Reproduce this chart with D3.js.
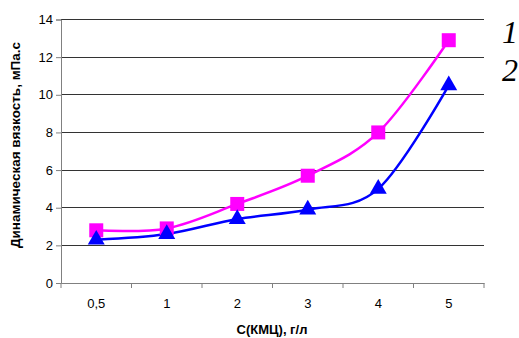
<!DOCTYPE html>
<html><head><meta charset="utf-8">
<script src="https://cdn.jsdelivr.net/npm/d3@7"></script>
<style>body{margin:0;background:#fff}svg{display:block}</style>
</head><body><svg id="c" width="519" height="338"></svg>
<script>
const categories = ["0,5","1","2","3","4","5"];
const series1 = [2.8, 2.9, 4.2, 5.7, 8.0, 12.9];
const series2 = [2.3, 2.6, 3.4, 3.9, 5.0, 10.5];
const yTicks = [0,2,4,6,8,10,12,14];
const seriesLabels = ["1","2"];

const svg = d3.select("#c");
const L=61, R=484, T=19.5, B=283;
const x = d3.scaleBand().domain(categories).range([L,R]);
const y = d3.scaleLinear().domain([0,14]).range([B,T]);

// gridlines
svg.append("g").selectAll("line").data(yTicks.filter(d=>d>0)).join("line")
  .attr("x1",L).attr("x2",R).attr("y1",d=>y(d)).attr("y2",d=>y(d))
  .attr("stroke","#333").attr("stroke-width",1).attr("shape-rendering","crispEdges");

// y axis
const ya = svg.append("g").attr("transform",`translate(${L},0)`)
  .call(d3.axisLeft(y).tickValues(yTicks).tickSize(5).tickPadding(3));
ya.select(".domain").attr("stroke","#808080");
ya.selectAll(".tick line").attr("stroke","#808080");
ya.selectAll("text").attr("font-family","Liberation Sans, Arial").attr("font-size",13).attr("fill","#000");

// x axis
const xa = svg.append("g").attr("transform",`translate(0,${B})`)
  .call(d3.axisBottom(x).tickSize(0).tickPadding(16));
xa.select(".domain").attr("stroke","#808080");
xa.selectAll(".tick line").remove();
xa.selectAll("text").attr("font-family","Liberation Sans, Arial").attr("font-size",13).attr("fill","#000");
// category boundary ticks
const bounds = categories.map(c=>x(c)).concat([R]);
svg.append("g").selectAll("line").data(bounds).join("line")
  .attr("x1",d=>d).attr("x2",d=>d).attr("y1",B).attr("y2",B+5)
  .attr("stroke","#808080");

const cx = c => x(c)+x.bandwidth()/2;
const line = d3.line().x((d,i)=>cx(categories[i])).y(d=>y(d)).curve(d3.curveCatmullRom.alpha(0));

svg.append("path").attr("d",line(series1)).attr("fill","none").attr("stroke","#FF00FF").attr("stroke-width",2.5);
svg.append("path").attr("d",line(series2)).attr("fill","none").attr("stroke","#0000FF").attr("stroke-width",2.5);

svg.append("g").selectAll("rect").data(series1).join("rect")
  .attr("x",(d,i)=>cx(categories[i])-7).attr("y",d=>y(d)-7)
  .attr("width",14).attr("height",14).attr("fill","#FF00FF");
svg.append("g").selectAll("path").data(series2).join("path")
  .attr("d",d3.symbol().type(d3.symbolTriangle).size(125))
  .attr("transform",(d,i)=>`translate(${cx(categories[i])},${y(d)})`)
  .attr("fill","#0000FF");

// series labels
svg.append("text").attr("x",502).attr("y",43).text(seriesLabels[0])
  .attr("font-family","Liberation Serif, Times New Roman").attr("font-style","italic").attr("font-size",32);
svg.append("text").attr("x",502).attr("y",81).text(seriesLabels[1])
  .attr("font-family","Liberation Serif, Times New Roman").attr("font-style","italic").attr("font-size",32);

// axis titles
svg.append("text").attr("transform",`translate(20,145) rotate(-90)`).attr("text-anchor","middle")
  .attr("font-family","Liberation Sans, Arial").attr("font-weight","bold").attr("font-size",13.5)
  .text("Динамическая вязкость, мПа.с");
svg.append("text").attr("x",272).attr("y",334).attr("text-anchor","middle")
  .attr("font-family","Liberation Sans, Arial").attr("font-weight","bold").attr("font-size",13)
  .text("С(КМЦ), г/л");
</script></body></html>
